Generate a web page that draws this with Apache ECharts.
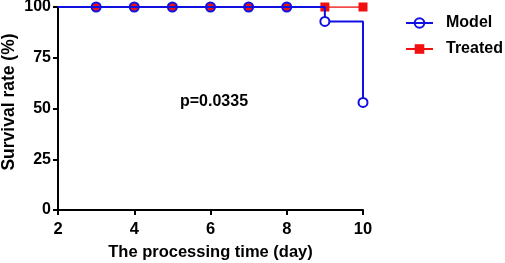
<!DOCTYPE html>
<html>
<head>
<meta charset="utf-8">
<script src="https://cdn.jsdelivr.net/npm/echarts@6/dist/echarts.min.js"></script>
<style>
  html, body { margin: 0; padding: 0; background: #fff; }
  #chart { width: 505px; height: 263px; }
</style>
</head>
<body>
<div id="chart"></div>
<script>
// survival curves
const days = [2, 3, 4, 5, 6, 7, 8, 9, 10];
const modelSurvival = [100, 100, 100, 100, 100, 100, 100, 92.9, 53];
const treatedSurvival = [100, 100, 100, 100, 100, 100, 100, 100, 100];
const yTicks = [0, 25, 50, 75, 100];

const FONT = 'Liberation Sans, Arial, sans-serif';
const BLUE = '#1010e0';
const RED = '#f01010';

const chart = echarts.init(document.getElementById('chart'), null, { renderer: 'canvas' });

// first point (day 2) is only the start of the curve, no marker
const modelData = days.map((d, i) => {
	const item = { value: [d, modelSurvival[i]] };
	if (i === 0) item.symbolSize = 0;
	if (d >= 9) item.itemStyle = { color: '#fff' };
	return item;
});

const treatedData = days.map((d, i) => {
	const item = { value: [d, treatedSurvival[i]] };
	if (i === 0) item.symbolSize = 0;
	else if (d < 9) { item.symbol = 'circle'; item.symbolSize = 8; }
	return item;
});

const option = {
	animation: false,
	// keep the grid where it is, do not let v6 push it for the axis names
	grid: { left: 58, right: 142, top: 7, bottom: 53, containLabel: false, outerBoundsMode: 'none' },
	legend: {
		orient: 'vertical',
		left: 400,
		top: 10,
		itemGap: 10,
		itemWidth: 27,
		itemHeight: 12,
		textStyle: { fontFamily: FONT, fontWeight: 'bold', fontSize: 16, color: '#000', padding: [0, 0, 0, 8] },
		data: ['Model', 'Treated'],
	},
	xAxis: {
		type: 'value',
		min: 2,
		max: 10,
		interval: 2,
		name: 'The processing time (day)',
		nameLocation: 'middle',
		nameGap: 34,
		nameTextStyle: { fontFamily: FONT, fontWeight: 'bold', fontSize: 16.5, color: '#000' },
		axisLine: { lineStyle: { color: '#000', width: 2 } },
		axisTick: { show: true, length: 5, lineStyle: { color: '#000', width: 2 } },
		axisLabel: { fontFamily: FONT, fontWeight: 'bold', fontSize: 16.5, color: '#000', margin: 11 },
		splitLine: { show: false },
	},
	yAxis: {
		type: 'value',
		min: yTicks[0],
		max: yTicks[yTicks.length - 1],
		interval: 25,
		axisLine: { show: true, lineStyle: { color: '#000', width: 2 } },
		axisTick: { show: true, length: 5, lineStyle: { color: '#000', width: 2 } },
		axisLabel: { fontFamily: FONT, fontWeight: 'bold', fontSize: 16, color: '#000', margin: 7 },
		splitLine: { show: false },
	},
	graphic: [
		{
			// y axis title sits a bit above the middle of the axis
			type: 'text',
			x: 9,
			y: 102,
			rotation: Math.PI / 2,
			style: {
				text: 'Survival rate (%)',
				font: 'bold 17.5px ' + FONT,
				fill: '#000',
				align: 'center',
				verticalAlign: 'middle',
			},
		},
		{
			type: 'text',
			left: 180,
			top: 94,
			style: { text: 'p=0.0335', font: 'bold 16px ' + FONT, fill: '#000' },
		},
	],
	series: [
		{
			name: 'Treated',
			type: 'line',
			step: 'end',
			data: treatedData,
			symbol: 'rect',
			symbolSize: 9,
			itemStyle: { color: RED },
			lineStyle: { color: RED, width: 1.5 },
			z: 2,
		},
		{
			name: 'Model',
			type: 'line',
			step: 'end',
			data: modelData,
			symbol: 'circle',
			symbolSize: 9,
			itemStyle: { color: 'rgba(0,0,0,0)', borderColor: BLUE, borderWidth: 2 },
			lineStyle: { color: BLUE, width: 2 },
			z: 3,
		},
	],
};

chart.setOption(option);
</script>
</body>
</html>
